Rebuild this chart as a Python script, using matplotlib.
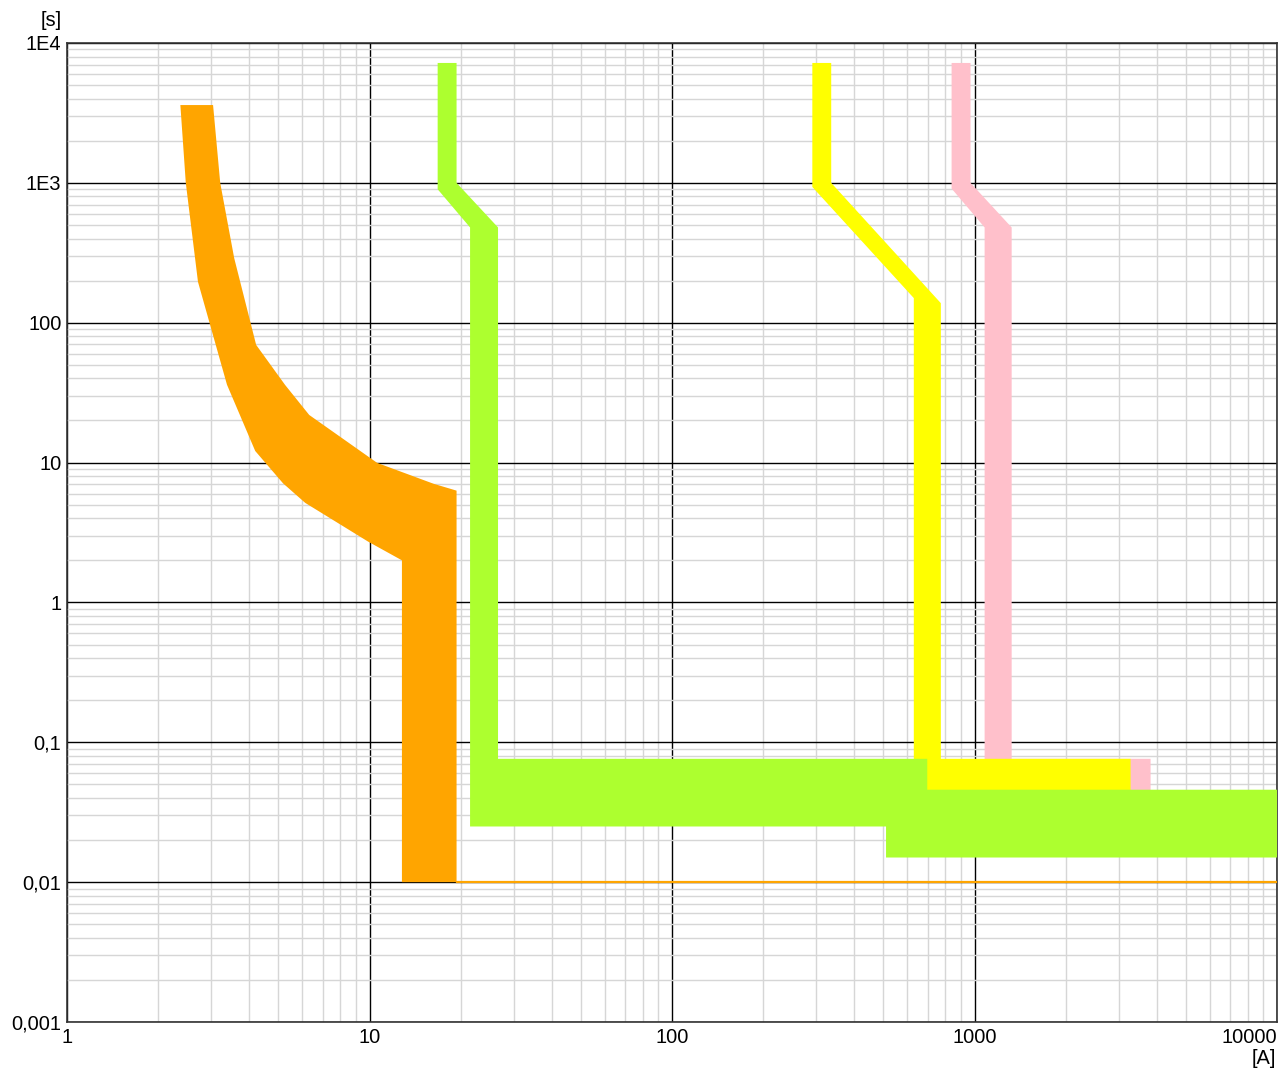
import matplotlib
matplotlib.use("Agg")
import matplotlib.pyplot as plt
from matplotlib.ticker import FixedLocator, LogLocator, NullFormatter

plt.rcParams['font.family'] = ['Liberation Sans', 'DejaVu Sans']

# ---- data (current [A], time [s]) ----
# Orange band: left (min) edge top->bottom, right (max) edge bottom->top
orange_left_x = [2.37, 2.47, 2.71, 3.38, 4.19, 5.18, 6.13, 9.9, 12.8, 12.8]
orange_left_y = [3600, 1000, 196, 36, 12.1, 7.1, 5.15, 2.72, 2.0, 0.01]
orange_right_x = [19.4, 19.4, 16.3, 10.6, 6.32, 5.26, 4.22, 3.57, 3.21, 3.04]
orange_right_y = [0.01, 6.3, 7.05, 9.95, 21.9, 35.9, 69.4, 290, 1000, 3600]
orange_line_x = [19.4, 12000]
orange_line_y = [0.01, 0.01]

# Green band outline
green_x = [16.8, 16.8, 21.5, 21.5, 510, 510, 12000, 12000, 698, 698, 26.6, 26.6, 19.4, 19.4]
green_y = [7200, 900, 480, 0.025, 0.025, 0.015, 0.015, 0.0458, 0.0458, 0.0762, 0.0762, 480, 1000, 7200]

# Yellow band outline
yellow_x = [291, 291, 630, 630, 3280, 3280, 774, 774, 336, 336]
yellow_y = [7200, 935, 150, 0.03, 0.03, 0.0762, 0.0762, 138, 1000, 7200]

# Pink band outline
pink_x = [840, 840, 1080, 1080, 3820, 3820, 1327, 1327, 970, 970]
pink_y = [7200, 910, 480, 0.03, 0.03, 0.0762, 0.0762, 480, 1000, 7200]

x_ticks = [1, 10, 100, 1000, 10000]
x_ticklabels = ["1", "10", "100", "1000", "10000"]
y_ticks = [0.001, 0.01, 0.1, 1, 10, 100, 1000, 10000]
y_ticklabels = ["0,001", "0,01", "0,1", "1", "10", "100", "1E3", "1E4"]

fig = plt.figure(figsize=(12.79, 10.71), dpi=100)
ax = fig.add_axes([67/1279, 49/1071, 1210/1279, 979/1071])
ax.set_xscale('log')
ax.set_yscale('log')
ax.set_xlim(1, 10000)
ax.set_ylim(0.001, 10000)

# grid
ax.xaxis.set_major_locator(FixedLocator(x_ticks))
ax.yaxis.set_major_locator(FixedLocator(y_ticks))
ax.xaxis.set_minor_locator(LogLocator(base=10, subs=range(2, 10), numticks=20))
ax.yaxis.set_minor_locator(LogLocator(base=10, subs=range(2, 10), numticks=20))
ax.xaxis.set_minor_formatter(NullFormatter())
ax.yaxis.set_minor_formatter(NullFormatter())
ax.grid(which='minor', color='#d6d6d6', linewidth=1.0, zorder=0)
ax.grid(which='major', color='#000000', linewidth=1.0, zorder=0.5)
ax.set_axisbelow(True)

# bands
ax.fill(pink_x, pink_y, color='#FFC0CB', linewidth=0, zorder=2)
ax.fill(yellow_x, yellow_y, color='#FFFF00', linewidth=0, zorder=3)
ax.fill(green_x, green_y, color='#ADFF2F', linewidth=0, zorder=4)
ax.fill(orange_left_x + orange_right_x, orange_left_y + orange_right_y,
        color='#FFA500', linewidth=0, zorder=5)
ax.plot(orange_line_x, orange_line_y, color='#FFA500', linewidth=1.6, zorder=5)

ax.set_xticks(x_ticks)
ax.set_xticklabels(x_ticklabels)
ax.set_yticks(y_ticks)
ax.set_yticklabels(y_ticklabels)
ax.tick_params(which='both', length=0, labelsize=14.4, pad=4)
for lab in ax.get_xticklabels():
    if lab.get_text() == "10000":
        lab.set_horizontalalignment('right')

for sp in ax.spines.values():
    sp.set_color('#333333')
    sp.set_linewidth(1.2)

fig.text(62/1279, 1 - 20/1071, "[s]", ha='right', va='center', fontsize=14.4)
fig.text(1276/1279, 1 - 1059/1071, "[A]", ha='right', va='center', fontsize=14.4)

fig.savefig("out.png", dpi=100)
